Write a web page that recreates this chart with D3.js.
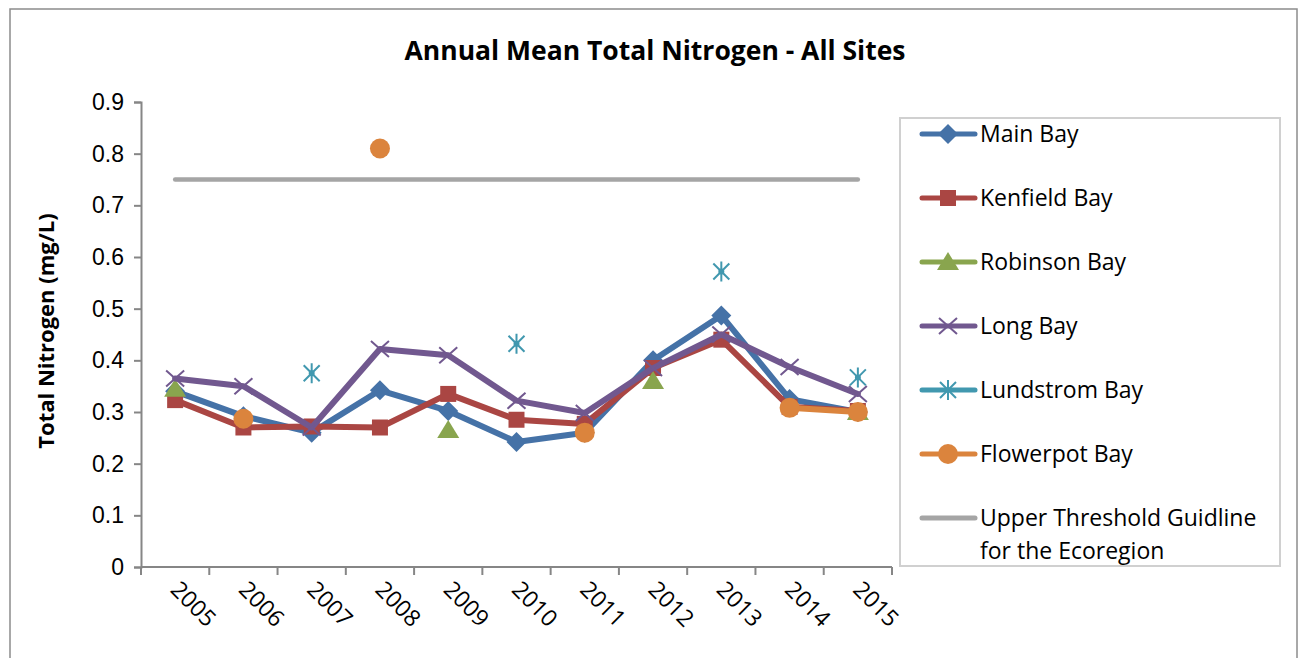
<!DOCTYPE html>
<html>
<head>
<meta charset="utf-8">
<script src="https://cdn.jsdelivr.net/npm/d3@7"></script>
<style>
  body { margin: 0; background: #fff; }
  svg { display: block; font-family: "Open Sans", "Noto Sans", sans-serif; }
</style>
</head>
<body>
<svg width="1299" height="658"></svg>
<script>
// data (null = no sample that year)
const years = ['2005','2006','2007','2008','2009','2010','2011','2012','2013','2014','2015']
const mainBay      = [0.340, 0.292, 0.260, 0.342, 0.302, 0.242, 0.260, 0.400, 0.487, 0.325, 0.300]
const kenfieldBay  = [0.323, 0.270, 0.272, 0.270, 0.335, 0.285, 0.277, 0.385, 0.440, 0.310, 0.302]
const robinsonBay  = [0.345, null, null, null, 0.265, null, null, 0.360, null, null, 0.300]
const longBay      = [0.365, 0.350, 0.270, 0.422, 0.410, 0.322, 0.298, 0.385, 0.450, 0.387, 0.335]
const lundstromBay = [null, null, 0.375, null, null, 0.432, null, null, 0.572, null, 0.367]
const flowerpotBay = [null, 0.287, null, 0.810, null, null, 0.260, null, null, 0.308, 0.300]
const threshold    = [0.75, 0.75, 0.75, 0.75, 0.75, 0.75, 0.75, 0.75, 0.75, 0.75, 0.75]
const yTicks = [0, 0.1, 0.2, 0.3, 0.4, 0.5, 0.6, 0.7, 0.8, 0.9]

const series = [
    {name: 'Main Bay', values: mainBay, color: '#4572A7', marker: 'diamond'},
    {name: 'Kenfield Bay', values: kenfieldBay, color: '#AA4643', marker: 'square'},
    {name: 'Robinson Bay', values: robinsonBay, color: '#89A54E', marker: 'triangle'},
    {name: 'Long Bay', values: longBay, color: '#71588F', marker: 'x'},
    {name: 'Lundstrom Bay', values: lundstromBay, color: '#4198AF', marker: 'star'},
    {name: 'Flowerpot Bay', values: flowerpotBay, color: '#DB843D', marker: 'circle'},
    {name: 'Upper Threshold Guidline|for the Ecoregion', values: threshold, color: '#A5A5A5', marker: null}
]

const svg = d3.select('svg')
const margin = {left: 141, top: 102, right: 407, bottom: 91}
const inner = {width: 1299 - margin.left - margin.right, height: 658 - margin.top - margin.bottom}

// outer chart frame
svg.append('rect')
    .attr('x', 10).attr('y', 9).attr('width', 1287).attr('height', 660)
    .attr('fill', 'none').attr('stroke', '#8c8c8c').attr('stroke-width', 1.5)

svg.append('text')
    .text('Annual Mean Total Nitrogen - All Sites')
    .attr('x', 655).attr('y', 60)
    .attr('text-anchor', 'middle')
    .attr('font-size', 26.5).attr('font-weight', 'bold')

const g = svg.append('g').attr('transform', `translate(${margin.left},${margin.top})`)

const xScale = d3.scaleBand().domain(years).range([0, inner.width])
const yScale = d3.scaleLinear().domain([0, 0.9]).range([inner.height, 0])
const xc = d => xScale(d) + xScale.bandwidth() / 2

// y axis
const yAxis = d3.axisLeft(yScale).tickValues(yTicks).tickSize(7).tickPadding(10)
    .tickFormat(d => d === 0 ? '0' : d3.format('.1f')(d))
const ya = g.append('g').call(yAxis)
ya.select('.domain').attr('stroke', '#868686').attr('stroke-width', 2)
ya.selectAll('.tick line').attr('stroke', '#868686').attr('stroke-width', 2)
ya.selectAll('.tick text').attr('font-size', 23).attr('fill', '#000').attr('font-family', null)

// x axis: ticks at category boundaries
const xa = g.append('g').attr('transform', `translate(0,${inner.height})`)
xa.append('line').attr('x1', 0).attr('x2', inner.width).attr('stroke', '#868686').attr('stroke-width', 2)
xa.selectAll('.xt').data(d3.range(years.length + 1)).enter().append('line')
    .attr('x1', i => i * xScale.step()).attr('x2', i => i * xScale.step())
    .attr('y1', 0).attr('y2', 8)
    .attr('stroke', '#868686').attr('stroke-width', 2)
xa.selectAll('.xl').data(years).enter().append('text')
    .text(d => d)
    .attr('transform', d => `translate(${xc(d) - 6},${24}) rotate(45)`)
    .attr('font-size', 23).attr('fill', '#000')

g.append('text')
    .text('Total Nitrogen (mg/L)')
    .attr('transform', `translate(${54 - margin.left},${331 - margin.top}) rotate(-90)`)
    .attr('text-anchor', 'middle')
    .attr('font-size', 22).attr('font-weight', 'bold')

// markers
const markerPath = (type, cx, cy) => {
    switch (type) {
        case 'diamond': return `M${cx},${cy - 10}L${cx + 10},${cy}L${cx},${cy + 10}L${cx - 10},${cy}Z`
        case 'square': return `M${cx - 8},${cy - 8}h16v16h-16Z`
        case 'triangle': return `M${cx},${cy - 10}L${cx + 11},${cy + 8}L${cx - 11},${cy + 8}Z`
        case 'x': return `M${cx - 9},${cy - 8}L${cx + 9},${cy + 8}M${cx - 9},${cy + 8}L${cx + 9},${cy - 8}`
        case 'star': return `M${cx - 8},${cy - 8}L${cx + 8},${cy + 8}M${cx - 8},${cy + 8}L${cx + 8},${cy - 8}M${cx},${cy - 10}V${cy + 10}`
    }
}
const drawMarker = (sel, type, color, cx, cy) => {
    if (type === 'circle') {
        sel.append('circle').attr('cx', cx).attr('cy', cy).attr('r', 10).attr('fill', color)
    } else if (type === 'x' || type === 'star') {
        sel.append('path').attr('d', markerPath(type, cx, cy))
            .attr('fill', 'none').attr('stroke', color).attr('stroke-width', 2)
    } else {
        sel.append('path').attr('d', markerPath(type, cx, cy)).attr('fill', color)
    }
}

const line = d3.line()
    .defined(d => d.v !== null)
    .x(d => xc(d.year)).y(d => yScale(d.v))

series.forEach(s => {
    const pts = years.map((y, i) => ({year: y, v: s.values[i]}))
    const sg = g.append('g')
    sg.append('path').datum(pts)
        .attr('d', line)
        .attr('fill', 'none').attr('stroke', s.color)
        .attr('stroke-width', s.marker ? 6 : 4.5)
        .attr('stroke-linejoin', 'round').attr('stroke-linecap', 'round')
    if (s.marker) {
        pts.filter(d => d.v !== null).forEach(d => drawMarker(sg, s.marker, s.color, xc(d.year), yScale(d.v)))
    }
})

// legend
const lg = svg.append('g')
lg.append('rect').attr('x', 900).attr('y', 118).attr('width', 380).attr('height', 448)
    .attr('fill', '#fff').attr('stroke', '#d0d0d0').attr('stroke-width', 2)
series.forEach((s, i) => {
    const y = 134 + i * 64
    lg.append('line').attr('x1', 922).attr('x2', 975).attr('y1', y).attr('y2', y)
        .attr('stroke', s.color).attr('stroke-width', 5).attr('stroke-linecap', 'round')
    if (s.marker) drawMarker(lg, s.marker, s.color, 948, y)
    const t = lg.append('text').attr('x', 980).attr('y', y + 8).attr('font-size', 23)
    s.name.split('|').forEach((part, j) => {
        t.append('tspan').attr('x', 980).attr('dy', j ? 33 : 0).text(part)
    })
})
</script>
</body>
</html>
